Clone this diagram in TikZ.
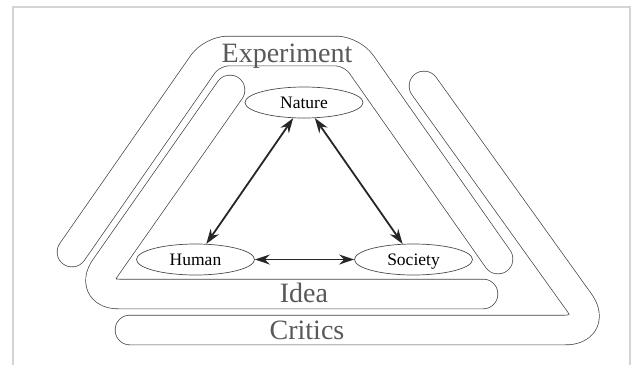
\documentclass[tikz,border=0pt]{standalone}
\usepackage{fontspec}
\setmainfont{Liberation Serif}
\newfontfamily\timesfont{Liberation Serif}
\usetikzlibrary{shapes.geometric,arrows.meta}

\begin{document}
\begin{tikzpicture}[x=1pt,y=-1pt,>={Stealth[length=15pt,width=10pt]},
  band/.style={draw=black!75,line width=0.7pt,double=white,double distance=29pt,line cap=round,line join=round},
  word/.style={text=black!65,font=\timesfont\fontsize{28}{30}\selectfont,anchor=base},
  item/.style={draw=black!70,line width=0.7pt,ellipse,minimum width=118pt,minimum height=31pt,inner sep=0pt,text depth=0pt,font=\timesfont\fontsize{17.5}{19}\selectfont},
  link/.style={<->,line width=1.8pt,black!85}]
\useasboundingbox (0,0) rectangle (632,365);
\draw[black!17,line width=2.5pt] (13,365) -- (13,7) -- (630,7) -- (630,365);
\draw[band,rounded corners=16pt] (72,252) -- (212,51) -- (352,51) -- (498,259);
\draw[band,rounded corners=32pt] (230,90) -- (87,294) -- (483,294);
\draw[band,rounded corners=34pt] (130,330) -- (599,330) -- (424,86);
\node[word] (experiment) at (287,62) {Experiment};
\node[word] (idea) at (304,302) {Idea};
\node[word] (critics) at (307,339) {Critics};
\node[item] (nature) at (304,102.5) {Nature};
\node[item] (human) at (195.5,259.5) {Human};
\node[item] (society) at (413.5,259.5) {Society};
\draw[link] (nature) -- (human);
\draw[link] (nature) -- (society);
\draw[link] (human) -- (society);
\end{tikzpicture}
\end{document}
